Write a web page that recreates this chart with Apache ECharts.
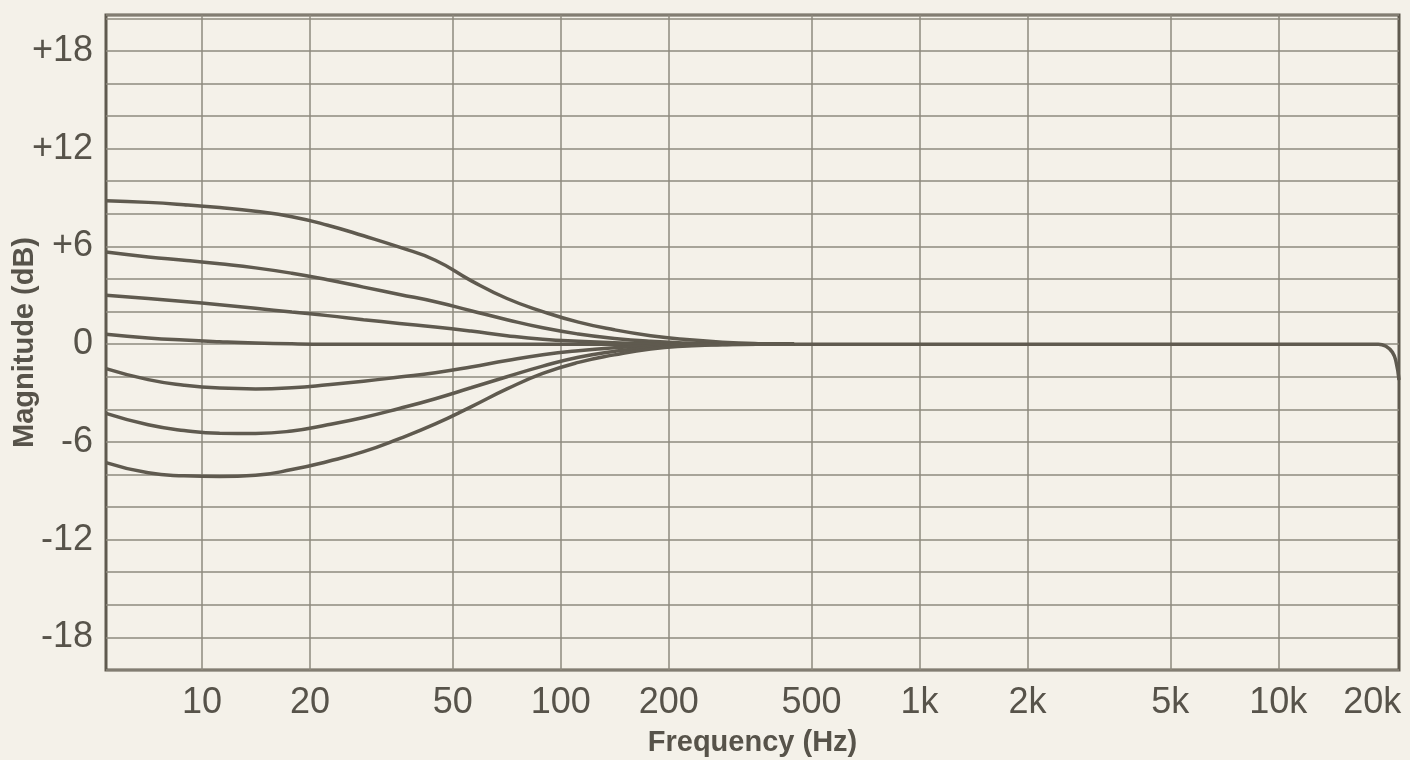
<!DOCTYPE html>
<html>
<head>
<meta charset="utf-8">
<style>
  html, body { margin: 0; padding: 0; background: #f4f1e9; }
  #chart { width: 1410px; height: 760px; }
</style>
<script src="https://cdn.jsdelivr.net/npm/echarts@6/dist/echarts.min.js"></script>
</head>
<body>
<div id="chart"></div>
<script>
// ---- data (frequency in Hz, magnitude in dB) ----
const xTickValues = [10, 20, 50, 100, 200, 500, 1000, 2000, 5000, 10000];
const xLabelValues = [10, 20, 50, 100, 200, 500, 1000, 2000, 5000, 10000, 20000];
const yLabelValues = [-18, -12, -6, 0, 6, 12, 18];
const freqMin = 5.4;
const freqMax = 21700;

// shared low-frequency sample points (Hz)
const lowFreqs = [5.4, 7.08, 8.91, 11.2, 14.1, 17.8, 22.4, 28.2, 35.5, 44.7, 56.2, 70.8, 89.1, 112, 141, 178, 224, 282, 355, 447];

const gainBoost9 = [8.8, 8.7, 8.56, 8.38, 8.15, 7.82, 7.3, 6.65, 5.95, 5.15, 3.9, 2.8, 2.0, 1.35, 0.88, 0.52, 0.28, 0.12, 0.03, 0];
const gainBoost6 = [5.65, 5.35, 5.15, 4.93, 4.68, 4.35, 3.95, 3.5, 3.05, 2.6, 2.05, 1.5, 1.0, 0.62, 0.35, 0.17, 0.07, 0.02, 0, 0];
const gainBoost3 = [3.0, 2.8, 2.62, 2.42, 2.2, 1.97, 1.75, 1.5, 1.27, 1.05, 0.8, 0.52, 0.3, 0.17, 0.08, 0.03, 0, 0, 0, 0];
const gainFlat   = [0.6, 0.38, 0.25, 0.15, 0.07, 0.02, 0, 0, 0, 0, 0, 0, 0, 0, 0, 0, 0, 0, 0, 0];
const gainCut3   = [-1.5, -2.18, -2.52, -2.7, -2.75, -2.68, -2.5, -2.28, -2.02, -1.75, -1.4, -1.0, -0.65, -0.4, -0.22, -0.1, -0.03, 0, 0, 0];
const gainCut6   = [-4.25, -4.95, -5.3, -5.47, -5.48, -5.33, -4.95, -4.5, -3.95, -3.35, -2.68, -2.0, -1.35, -0.8, -0.45, -0.2, -0.08, -0.02, 0, 0];
const gainCut9   = [-7.27, -7.9, -8.08, -8.13, -8.05, -7.7, -7.2, -6.6, -5.8, -4.9, -3.85, -2.75, -1.8, -1.12, -0.66, -0.3, -0.12, -0.04, 0, 0];

// high-frequency part shared by all settings (flat, then roll-off above 20 kHz)
const highFreqs = [1000, 5000, 10000, 19000, 20000, 20800, 21300, 21700];
const highGains = [0, 0, 0, 0, -0.15, -0.5, -1.1, -2.2];

const curveGains = [gainBoost9, gainBoost6, gainBoost3, gainFlat, gainCut3, gainCut6, gainCut9];

// ---- chart ----
const textColor = '#57534a';
const gridColor = '#8e8a7e';
const inkColor = '#5f5a4f';
const fontFamily = '"Liberation Sans", Arial, Helvetica, sans-serif';
const xTickLogs = xTickValues.map(v => Math.log10(v));
const xLabelLogs = xLabelValues.map(v => Math.log10(v));

function buildSeriesData(gains, withTail) {
  const pts = lowFreqs.map((f, i) => [Math.log10(f), gains[i]]);
  if (withTail) {
    highFreqs.forEach((f, i) => pts.push([Math.log10(f), highGains[i]]));
  }
  return pts;
}

const chart = echarts.init(document.getElementById('chart'), null, { renderer: 'canvas' });
chart.setOption({
  backgroundColor: '#f4f1e9',
  animation: false,
  grid: {
    left: 106, right: 11, top: 15, bottom: 90,
    containLabel: false,
    outerBoundsMode: 'none',
    show: true, borderColor: inkColor, borderWidth: 3,
    backgroundColor: 'transparent'
  },
  xAxis: {
    type: 'value',
    min: Math.log10(freqMin),
    max: Math.log10(freqMax),
    axisLine: { show: false },
    axisTick: { show: false, customValues: xTickLogs },
    axisLabel: {
      customValues: xLabelLogs,
      fontSize: 36, color: textColor, fontFamily: fontFamily, margin: 15,
      formatter: function (v) {
        const f = Math.round(Math.pow(10, v));
        const txt = f >= 1000 ? (f / 1000) + 'k' : String(f);
        return f === xLabelValues[xLabelValues.length - 1] ? '{edge|' + txt + '}' : txt;
      },
      rich: {
        edge: { fontSize: 36, color: textColor, fontFamily: fontFamily, padding: [0, 28, 0, 0] }
      }
    },
    splitLine: { show: true, lineStyle: { color: gridColor, width: 1.5 } },
    name: 'Frequency (Hz)',
    nameLocation: 'middle',
    nameGap: 58,
    nameMoveOverlap: false,
    nameTextStyle: { fontSize: 29, fontWeight: 'bold', color: textColor, fontFamily: fontFamily }
  },
  yAxis: {
    type: 'value',
    min: -20, max: 20.2, interval: 2,
    axisLine: { show: false },
    axisTick: { show: false },
    axisLabel: {
      fontSize: 36, color: textColor, fontFamily: fontFamily, margin: 13,
      formatter: function (v) {
        const r = Math.round(v);
        if (Math.abs(v - r) > 1e-6 || yLabelValues.indexOf(r) < 0) return '';
        return r > 0 ? '+' + r : String(r);
      }
    },
    splitLine: { show: true, lineStyle: { color: gridColor, width: 1.5 } },
    name: 'Magnitude (dB)',
    nameLocation: 'middle',
    nameGap: 67,
    nameRotate: 90,
    nameMoveOverlap: false,
    nameTextStyle: { fontSize: 29, fontWeight: 'bold', color: textColor, fontFamily: fontFamily }
  },
  series: curveGains.map((g, idx) => ({
    type: 'line',
    silent: true,
    showSymbol: false,
    smooth: 0.5,
    clip: true,
    lineStyle: { color: inkColor, width: 3.5 },
    data: buildSeriesData(g, idx === 3)
  }))
});
</script>
</body>
</html>
